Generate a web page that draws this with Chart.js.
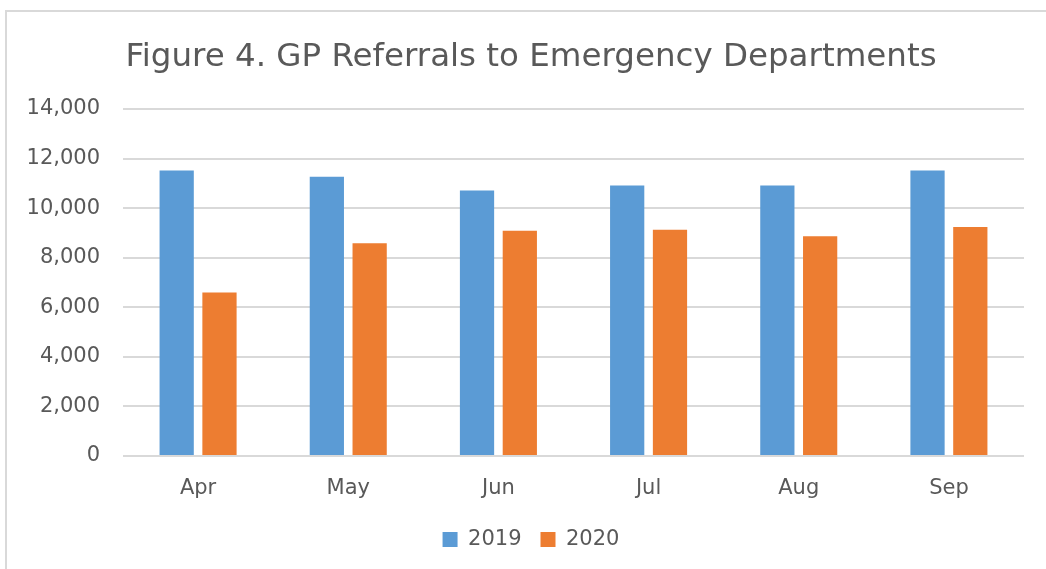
<!DOCTYPE html>
<html>
<head>
<meta charset="utf-8">
<script src="https://cdn.jsdelivr.net/npm/chart.js@4"></script>
<style>
  body { margin: 0; background: #fff; overflow: hidden; }
  #frame { position: absolute; left: 5px; top: 10px; width: 1100px; height: 620px;
           border-left: 2px solid #d9d9d9; border-top: 2px solid #d9d9d9; }
  #wrap { position: absolute; left: 0; top: 0; width: 1046px; height: 569px; }
</style>
</head>
<body>
<div id="frame"></div>
<div id="wrap"><canvas id="referralsChart"></canvas></div>
<script>
// GP referrals per month
const months = ['Apr', 'May', 'Jun', 'Jul', 'Aug', 'Sep'];
const referrals2019 = [11520, 11270, 10710, 10910, 10910, 11520];
const referrals2020 = [6600, 8580, 9090, 9130, 8870, 9240];
const yTicks = [0, 2000, 4000, 6000, 8000, 10000, 12000, 14000];

const textColor = '#595959';
const fontFamily = '"DejaVu Sans", sans-serif';

let ctx = document.getElementById('referralsChart');
new Chart(ctx, {
    type: 'bar',
    data: {
        labels: months,
        datasets: [{
            label: '2019',
            data: referrals2019,
            backgroundColor: '#5B9BD5',
            borderWidth: 0,
            categoryPercentage: 0.57,
            barPercentage: 0.8
        },
        {
            label: '2020',
            data: referrals2020,
            backgroundColor: '#ED7D31',
            borderWidth: 0,
            categoryPercentage: 0.57,
            barPercentage: 0.8
        }]
    },
    options: {
        responsive: true,
        maintainAspectRatio: false,
        animation: false,
        layout: {
            // uneven side padding keeps the title centred where the original has it
            padding: { left: 38, right: 22, top: 0, bottom: 9 }
        },
        plugins: {
            title: {
                display: true,
                text: 'Figure 4. GP Referrals to Emergency Departments',
                color: textColor,
                font: { family: fontFamily, size: 32.5, weight: 'normal' },
                padding: { top: 38, bottom: 32 }
            },
            legend: {
                position: 'bottom',
                labels: {
                    color: textColor,
                    font: { family: fontFamily, size: 21 },
                    boxWidth: 15,
                    boxHeight: 15,
                    padding: 19
                }
            },
            tooltip: { enabled: false }
        },
        scales: {
            x: {
                afterFit: function (scale) {
                    scale.height = 54;
                },
                grid: { display: false, drawTicks: false },
                border: { display: false },
                ticks: {
                    color: textColor,
                    font: { family: fontFamily, size: 21 },
                    padding: 20
                }
            },
            y: {
                min: yTicks[0],
                max: yTicks[yTicks.length - 1],
                afterBuildTicks: function (scale) {
                    scale.ticks = yTicks.map(v => ({ value: v }));
                },
                afterFit: function (scale) {
                    scale.width = 85;
                    // labels reach past the padded edge, so don't clip them
                    scale._computeLabelArea = function () { return undefined; };
                },
                grid: { color: '#d9d9d9', lineWidth: 2, drawTicks: false },
                border: { display: false },
                ticks: {
                    color: textColor,
                    font: { family: fontFamily, size: 21 },
                    padding: 23,
                    callback: function (value) {
                        return value.toLocaleString('en-US');
                    }
                }
            }
        }
    }
});
</script>
</body>
</html>
